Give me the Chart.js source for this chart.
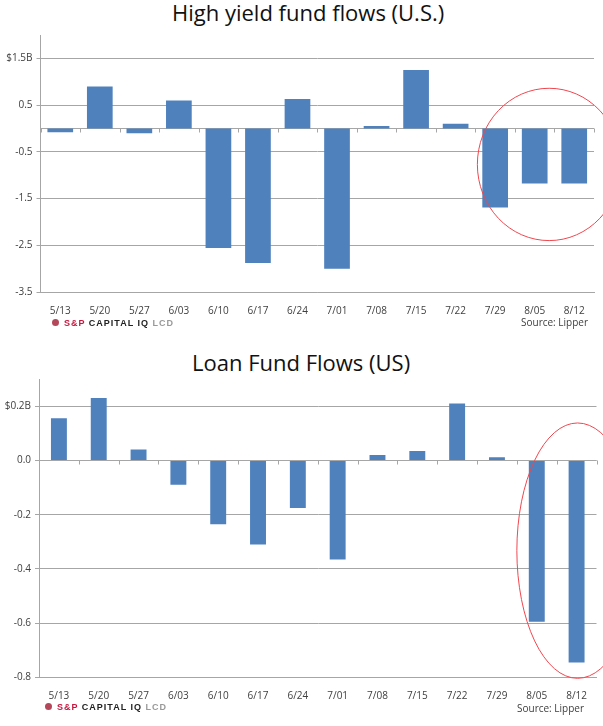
<!DOCTYPE html>
<html lang="en">
<head>
  <meta charset="UTF-8">
  <title>High yield and loan fund flows</title>
  <script src="https://cdn.jsdelivr.net/npm/chart.js"></script>
  <style>
    html, body { margin: 0; padding: 0; background: #fff; }
    body { position: relative; width: 603px; height: 726px; overflow: hidden; font-family: "Open Sans", sans-serif; }
    canvas { position: absolute; left: 0; }
    .title { position: absolute; color: #111; font-size: 22px; white-space: nowrap; }
    .source { position: absolute; color: #404040; font-size: 10px; white-space: nowrap; }
    .logo { position: absolute; font-family: "Liberation Sans", sans-serif; font-size: 9px; font-weight: bold; letter-spacing: 1px; white-space: nowrap; color: #222; }
    .logo i { display: inline-block; width: 7px; height: 7px; border-radius: 50%; background: #b5475a; margin-right: 5px; }
    .logo .sp { color: #c8173f; }
    .logo .lcd { color: #999; }
  </style>
</head>
<body>
  <div class="title" id="title1" style="left:172px; top:-3px">High yield fund flows (U.S.)</div>
  <canvas id="chart1"></canvas>
  <div class="logo" style="left:52px; top:318px"><i></i><span class="sp">S&amp;P</span> CAPITAL IQ <span class="lcd">LCD</span></div>
  <div class="source" style="left:521px; top:315px">Source: Lipper</div>

  <div class="title" id="title2" style="left:192px; top:347px">Loan Fund Flows (US)</div>
  <canvas id="chart2"></canvas>
  <div class="logo" style="left:45px; top:702px"><i></i><span class="sp">S&amp;P</span> CAPITAL IQ <span class="lcd">LCD</span></div>
  <div class="source" style="left:517px; top:701px">Source: Lipper</div>

  <script>
    const weeks = ['5/13', '5/20', '5/27', '6/03', '6/10', '6/17', '6/24', '7/01', '7/08', '7/15', '7/22', '7/29', '8/05', '8/12'];

    const highYieldFlows = [-0.08, 0.9, -0.1, 0.6, -2.56, -2.88, 0.63, -3.0, 0.05, 1.25, 0.1, -1.69, -1.18, -1.18];
    const highYieldTicks = [-3.5, -2.5, -1.5, -0.5, 0.5, 1.5];
    const highYieldTickLabels = ['-3.5', '-2.5', '-1.5', '-0.5', '0.5', '$1.5B'];

    const loanFlows = [0.155, 0.23, 0.04, -0.09, -0.235, -0.31, -0.175, -0.365, 0.02, 0.035, 0.21, 0.012, -0.595, -0.745];
    const loanTicks = [-0.8, -0.6, -0.4, -0.2, 0, 0.2];
    const loanTickLabels = ['-0.8', '-0.6', '-0.4', '-0.2', '0.0', '$0.2B'];

    const BLUE = '#4f81bd';
    const GRID = '#a6a6a6';

    // zero line with the little category ticks, drawn off the scales
    const zeroLine = {
      id: 'zeroLine',
      beforeDatasetsDraw(chart) {
        const { ctx, chartArea, scales: { x, y } } = chart;
        const y0 = Math.round(y.getPixelForValue(0)) + 0.5;
        ctx.save();
        ctx.strokeStyle = GRID;
        ctx.lineWidth = 1;
        ctx.beginPath();
        ctx.moveTo(chartArea.left, y0);
        ctx.lineTo(chartArea.right, y0);
        for (let i = 0; i <= weeks.length; i++) {
          const tx = Math.round(chartArea.left + i * chartArea.width / weeks.length) + 0.5;
          ctx.moveTo(tx, y0);
          ctx.lineTo(tx, y0 + 4);
        }
        ctx.stroke();
        ctx.restore();
      }
    };

    // red hand-drawn ellipse around the last weeks, placed in data units
    const circle = {
      id: 'circle',
      afterDraw(chart, args, opts) {
        const { ctx, scales: { x, y } } = chart;
        const left = x.getPixelForValue(opts.xFrom);
        const right = x.getPixelForValue(opts.xTo);
        const top = y.getPixelForValue(opts.yTop);
        const bottom = y.getPixelForValue(opts.yBottom);
        ctx.save();
        ctx.strokeStyle = '#f0474f';
        ctx.lineWidth = 1;
        ctx.beginPath();
        ctx.ellipse((left + right) / 2, (top + bottom) / 2, (right - left) / 2, (bottom - top) / 2, 0, 0, Math.PI * 2);
        ctx.stroke();
        ctx.restore();
      }
    };

    function makeChart(id, cfg) {
      const canvas = document.getElementById(id);
      canvas.style.top = cfg.top + 'px';
      return new Chart(canvas, {
        type: 'bar',
        data: {
          labels: weeks,
          datasets: [{ data: cfg.values, backgroundColor: BLUE, barPercentage: cfg.barPct, categoryPercentage: 1 }]
        },
        plugins: [zeroLine, circle],
        options: {
          responsive: false,
          animation: false,
          devicePixelRatio: 1,
          layout: { padding: { top: cfg.padTop, right: cfg.padRight, left: 0, bottom: 0 } },
          plugins: {
            legend: { display: false },
            tooltip: { enabled: false },
            circle: cfg.circle
          },
          scales: {
            x: {
              afterFit: s => { s.height = cfg.xHeight; },
              grid: { display: false },
              border: { color: GRID },
              ticks: { color: '#404040', font: { family: 'Open Sans', size: 10 }, padding: 5, maxRotation: 0, autoSkip: false }
            },
            y: {
              min: cfg.min,
              max: cfg.max,
              afterFit: s => { s.width = cfg.yWidth; },
              afterBuildTicks: s => { s.ticks = cfg.ticks.map(v => ({ value: v })); },
              grid: { color: GRID, drawTicks: true, tickLength: 4 },
              border: { color: GRID },
              ticks: {
                color: '#404040',
                font: { family: 'Open Sans', size: 10 },
                padding: 4,
                callback: (v, i) => cfg.tickLabels[i]
              }
            }
          }
        }
      });
    }

    document.getElementById('chart1').width = 603;
    document.getElementById('chart1').height = 340;
    document.getElementById('chart2').width = 603;
    document.getElementById('chart2').height = 376;

    makeChart('chart1', {
      top: 0, padTop: 35, padRight: 9, xHeight: 48, yWidth: 40.5, barPct: 0.65,
      values: highYieldFlows, ticks: highYieldTicks, tickLabels: highYieldTickLabels,
      min: -3.5, max: 2.0,
      circle: { xFrom: 10.55, xTo: 14.18, yTop: 0.86, yBottom: -2.4 }
    });

    makeChart('chart2', {
      top: 350, padTop: 29, padRight: 6.5, xHeight: 48.5, yWidth: 39, barPct: 0.4,
      values: loanFlows, ticks: loanTicks, tickLabels: loanTickLabels,
      min: -0.8, max: 0.3,
      circle: { xFrom: 11.5, xTo: 14.55, yTop: 0.138, yBottom: -0.803 }
    });
  </script>
</body>
</html>
